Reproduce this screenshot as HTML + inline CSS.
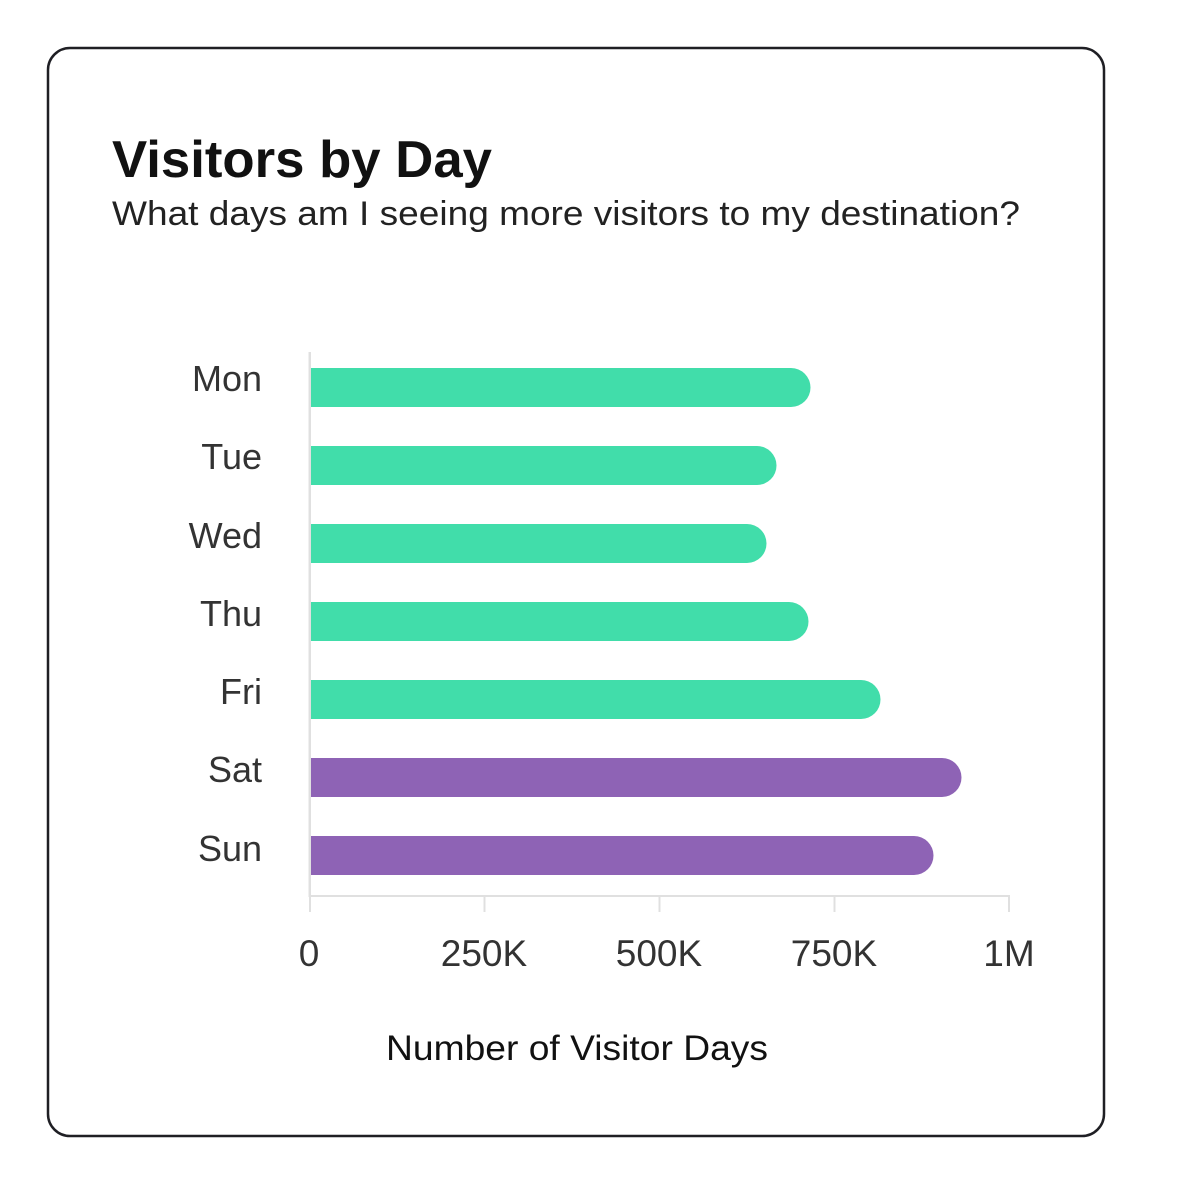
<!DOCTYPE html>
<html><head><meta charset="utf-8"><style>
html,body{margin:0;padding:0;background:#fff;}
svg{display:block;}
text{font-family:"Liberation Sans",sans-serif;}
</style></head><body>
<svg width="1184" height="1200" viewBox="0 0 1184 1200" xmlns="http://www.w3.org/2000/svg">
<rect x="48" y="48" width="1056" height="1088" rx="22" fill="#fff" stroke="#1f1f24" stroke-width="2.5"/>
<text x="112" y="177" font-size="52" font-weight="bold" fill="#111" textLength="380" lengthAdjust="spacingAndGlyphs">Visitors by Day</text>
<text x="112" y="225" font-size="34" fill="#222" textLength="908" lengthAdjust="spacingAndGlyphs">What days am I seeing more visitors to my destination?</text>
<g fill="#e0e0e0">
<rect x="308.5" y="352" width="2.5" height="545"/>
<rect x="310" y="895" width="700" height="2"/>
<rect x="309" y="896" width="2" height="16"/>
<rect x="483.5" y="896" width="2" height="16"/>
<rect x="658.5" y="896" width="2" height="16"/>
<rect x="833.5" y="896" width="2" height="16"/>
<rect x="1008" y="896" width="2" height="16"/>
</g>
<g>
<path d="M311 368 H791 A19.5 19.5 0 0 1 791 407 H311 Z" fill="#41DDAA"/>
<path d="M311 446 H757 A19.5 19.5 0 0 1 757 485 H311 Z" fill="#41DDAA"/>
<path d="M311 524 H747 A19.5 19.5 0 0 1 747 563 H311 Z" fill="#41DDAA"/>
<path d="M311 602 H789 A19.5 19.5 0 0 1 789 641 H311 Z" fill="#41DDAA"/>
<path d="M311 680 H861 A19.5 19.5 0 0 1 861 719 H311 Z" fill="#41DDAA"/>
<path d="M311 758 H942 A19.5 19.5 0 0 1 942 797 H311 Z" fill="#8E63B5"/>
<path d="M311 836 H914 A19.5 19.5 0 0 1 914 875 H311 Z" fill="#8E63B5"/>
</g>
<g font-size="36" fill="#333" text-anchor="end">
<text x="262" y="391">Mon</text>
<text x="262" y="469">Tue</text>
<text x="262" y="548">Wed</text>
<text x="262" y="626">Thu</text>
<text x="262" y="704">Fri</text>
<text x="262" y="782">Sat</text>
<text x="262" y="861">Sun</text>
</g>
<g font-size="37" fill="#333" text-anchor="middle">
<text x="309" y="966">0</text>
<text x="484" y="966">250K</text>
<text x="659" y="966">500K</text>
<text x="834" y="966">750K</text>
<text x="1009" y="966">1M</text>
</g>
<text x="386" y="1060" font-size="35" fill="#111" textLength="382" lengthAdjust="spacingAndGlyphs">Number of Visitor Days</text>
</svg>
</body></html>
